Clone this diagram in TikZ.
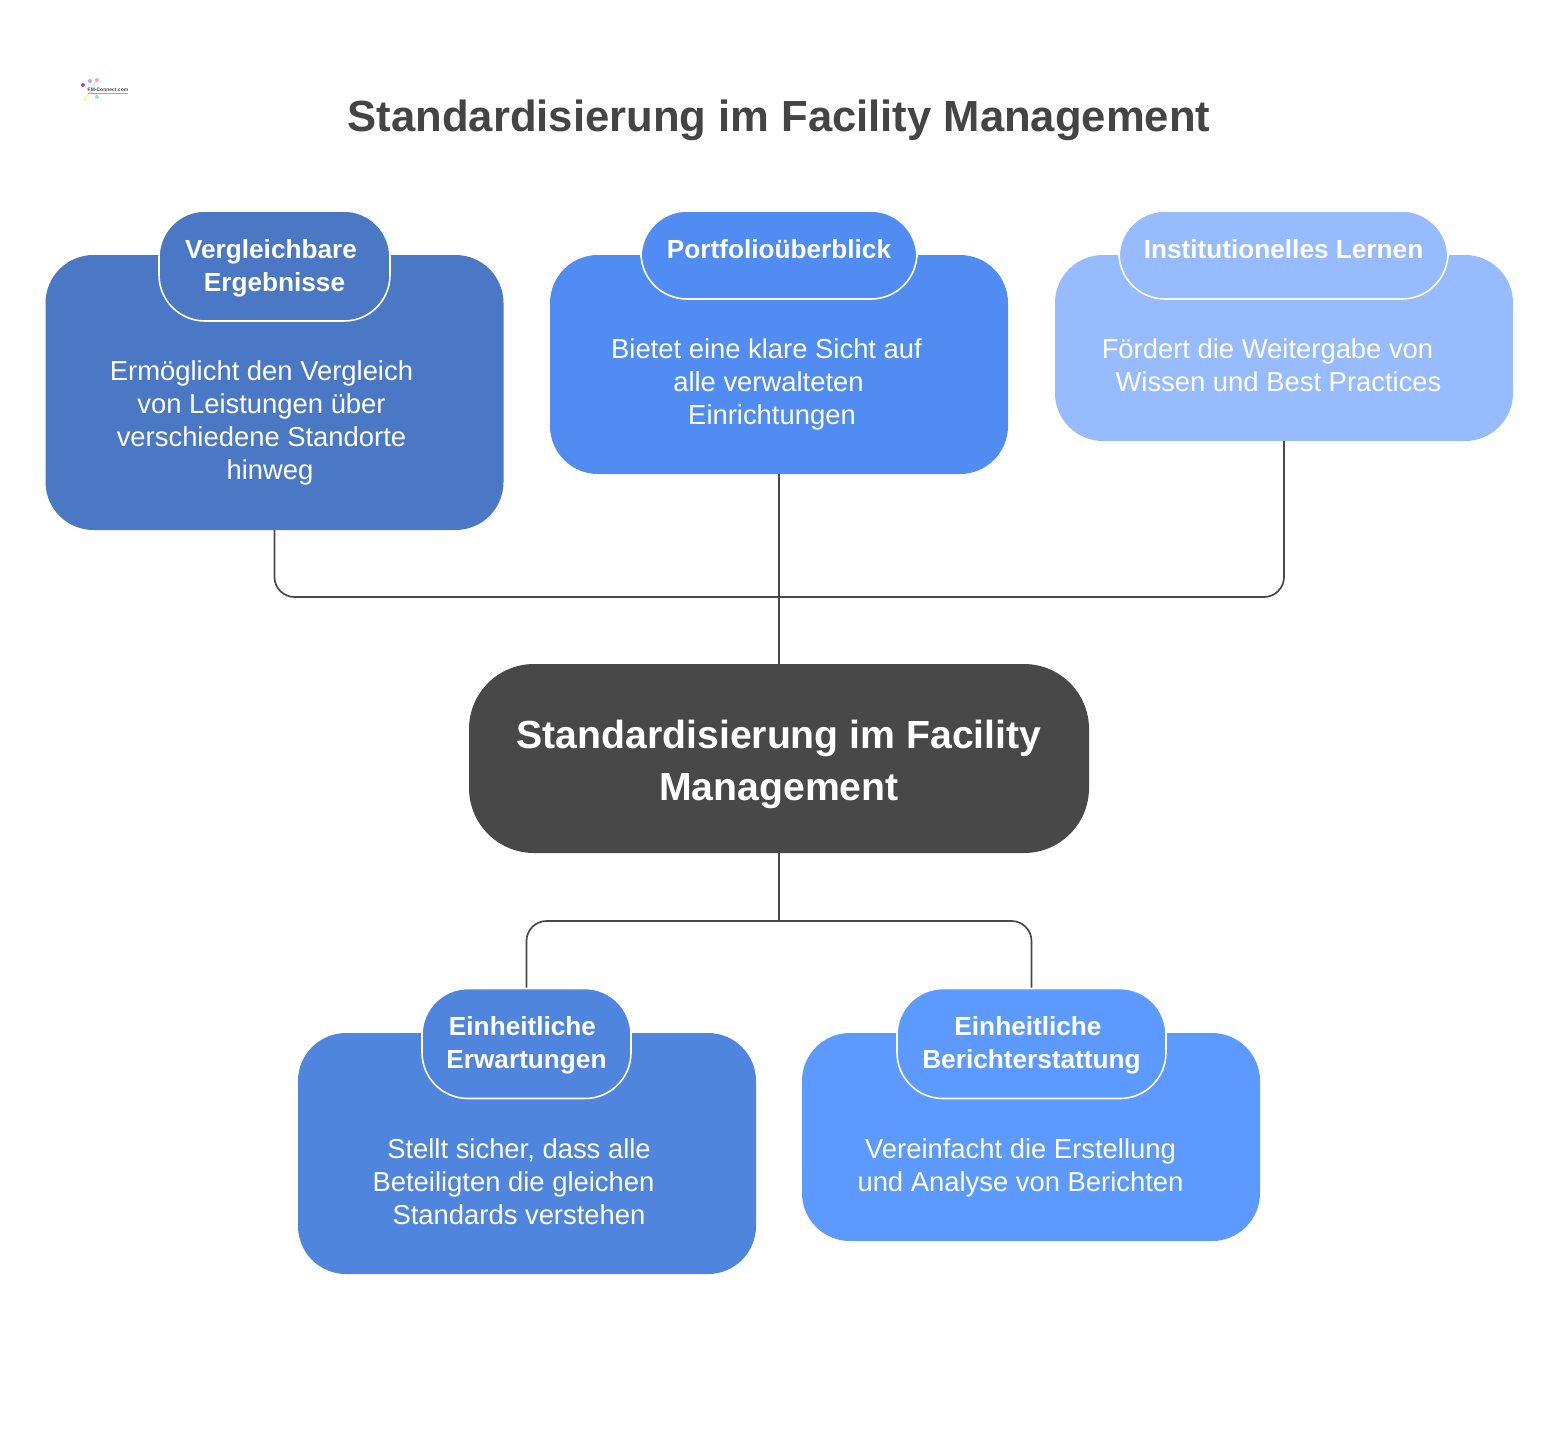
\documentclass[tikz,border=0pt]{standalone}
\usepackage{fontspec}
\usepackage{xcolor}
\setmainfont{Liberation Sans}
\usetikzlibrary{positioning}
\definecolor{cardA}{HTML}{4A78C5}
\definecolor{cardB}{HTML}{508CF1}
\definecolor{cardC}{HTML}{96BBFF}
\definecolor{cardD}{HTML}{5085DD}
\definecolor{cardE}{HTML}{5C9AFF}
\definecolor{hubdark}{HTML}{484848}
\definecolor{titlegrey}{HTML}{444444}
\newcommand{\pad}[1]{\kern#1pt}

\begin{document}
\begin{tikzpicture}[
    x=1pt,y=-1pt,
    card/.style={rounded corners=48pt,inner sep=0pt,minimum width=458pt},
    pill/.style={rounded corners=46pt,draw=white,line width=1.6pt,inner sep=0pt},
    head/.style={align=center,text=white,inner sep=0pt,font=\fontsize{26.2}{33}\selectfont\bfseries},
    body/.style={align=center,text=white,inner sep=0pt,font=\fontsize{27.4}{33}\selectfont},
    link/.style={draw=hubdark,line width=1.7pt,rounded corners=20pt},
    dot/.style={circle,inner sep=0pt,minimum size=4pt,opacity=.7}]
    \useasboundingbox (0,0) rectangle (1558,1437);

    \node (title) [text=titlegrey,font=\fontsize{43.6}{52}\selectfont\bfseries] at (779,120)
        {Standardisierung im Facility Management};

    % logo
    \node (logoa) [dot,fill=violet] at (83,85) {};
    \node (logob) [dot,fill=cardE] at (90,81) {};
    \node (logoc) [dot,fill=red!50] at (97,80) {};
    \node (logod) [dot,fill=yellow!70] at (85,99) {};
    \node (logoe) [dot,fill=cyan!60] at (97,97) {};
    \draw[black!15,line width=.6pt] (logoa) -- (logoe);
    \draw[black!15,line width=.6pt] (logoc) -- (logod);
    \node (logoname) [inner sep=0pt,text=hubdark,font=\fontsize{5}{6}\selectfont\bfseries] at (108,89.5) {FM-Connect.com};
    \draw[black!35,line width=1pt] (logoname.south west) ++(0,2.5) -- ++(40,0);

    % upper row
    \node (cardverg) [card,fill=cardA,minimum height=275pt] at (274.5,392.5) {};
    \node (cardport) [card,fill=cardB,minimum height=219pt] at (779,364.5) {};
    \node (cardinst) [card,fill=cardC,minimum height=186pt] at (1284,348) {};

    % lower row
    \node (carderw) [card,fill=cardD,minimum height=241pt] at (527,1153.5) {};
    \node (cardber) [card,fill=cardE,minimum height=208pt] at (1031,1137) {};

    \node (hub) [fill=hubdark,rounded corners=65pt,inner sep=0pt,minimum width=620pt,minimum height=189pt] at (779,758.5) {};
    \node (hubtext) [align=center,inner sep=0pt,text=white,font=\fontsize{39.2}{52}\selectfont\bfseries] at (779,764.5)
        {Standardisierung im Facility\\Management};

    \coordinate (joinup) at (779,597);
    \coordinate (joindown) at (779,921);

    \draw[link] (cardverg.south) |- (joinup);
    \draw[link] (cardinst.south) |- (joinup);
    \draw[link] (cardport.south) -- (hub.north);
    \draw[link] (hub.south) -- (joindown);

    \node (pillverg) [pill,fill=cardA,minimum width=231pt,minimum height=110pt] at (274.5,266) {};
    \node (pillport) [pill,fill=cardB,minimum width=276pt,minimum height=88pt] at (779,255) {};
    \node (pillinst) [pill,fill=cardC,minimum width=329pt,minimum height=88pt] at (1283.5,255) {};
    \node (pillerw) [pill,fill=cardD,minimum width=209pt,minimum height=110pt] at (526.5,1043.5) {};
    \node (pillber) [pill,fill=cardE,minimum width=269pt,minimum height=110pt] at (1031.5,1043.5) {};

    \draw[link] (joindown) -| (pillerw.north);
    \draw[link] (joindown) -| (pillber.north);

    \node (headverg) [head] at (274.5,268) {Vergleichbare\pad{7}\\Ergebnisse};
    \node (headport) [head] at (779,249) {Portfolioüberblick};
    \node (headinst) [head] at (1283.5,249) {Institutionelles Lernen};
    \node (headerw) [head] at (526.5,1045.5) {Einheitliche\pad{8}\\Erwartungen};
    \node (headber) [head] at (1031.5,1045.5) {Einheitliche\pad{7}\\Berichterstattung};

    \node (textverg) [body] at (261.5,422.5) {Ermöglicht den Vergleich\\von Leistungen über\\verschiedene Standorte\\\pad{17}hinweg};
    \node (textport) [body] at (766.5,384) {Bietet eine klare Sicht auf\\\pad{4}alle verwalteten\\\pad{11}Einrichtungen};
    \node (textinst) [body] at (1278.5,365) {Fördert die Weitergabe von\pad{22}\\Wissen und Best Practices};
    \node (texterw) [body] at (513.5,1182) {\pad{11}Stellt sicher, dass alle\\Beteiligten die gleichen\\\pad{11}Standards verstehen};
    \node (textber) [body] at (1020.5,1168) {Vereinfacht die Erstellung\\und Analyse von Berichten};
\end{tikzpicture}
\end{document}
